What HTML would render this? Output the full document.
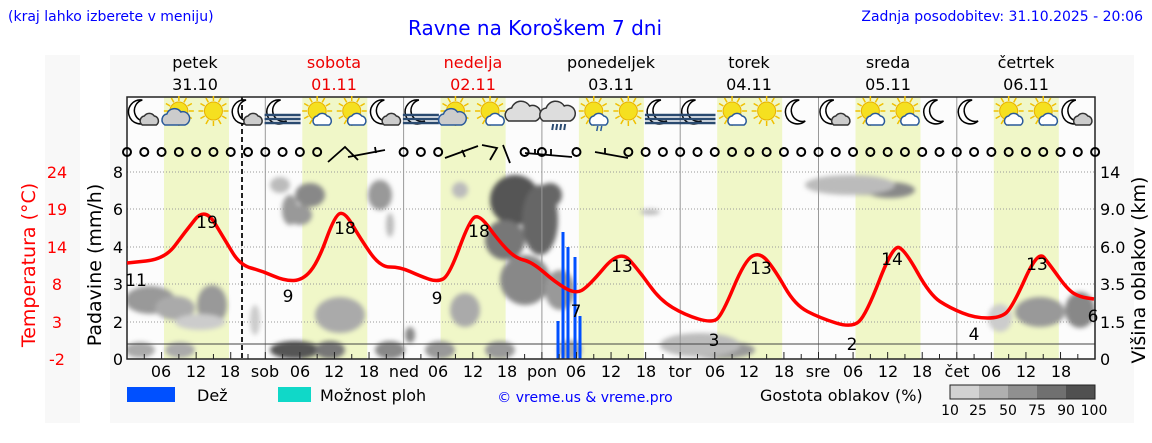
<!DOCTYPE html>
<html><head><meta charset="utf-8"><style>
html,body{margin:0;padding:0;background:#fff;width:1152px;height:443px;overflow:hidden}
svg{display:block;font-family:"DejaVu Sans","Liberation Sans",sans-serif}
</style></head><body>
<svg id="s" width="1152" height="443" viewBox="0 0 1152 443" xmlns="http://www.w3.org/2000/svg">
<defs>
<filter id="bl" x="-50%" y="-50%" width="200%" height="200%"><feGaussianBlur stdDeviation="2.5"/></filter>
<clipPath id="pc"><rect x="127" y="160" width="968" height="199"/></clipPath>
</defs>
<rect x="45" y="55" width="35" height="368" fill="#f8f8f8"/>
<rect x="110" y="55" width="1024" height="368" fill="#f8f8f8"/>
<rect x="127" y="97" width="968" height="262" fill="#fcfcfc"/>
<g id="bands" fill="#f0f7c8"></g>
<g id="grid" stroke="#999" stroke-width="1" stroke-dasharray="1,2"></g>
<g id="clouds" clip-path="url(#pc)" filter="url(#bl)"></g>
<g id="vlines" stroke="#999" stroke-width="1"></g>
<line x1="127" y1="344" x2="1095" y2="344" stroke="#444" stroke-width="1"/>
<line x1="242" y1="97" x2="242" y2="359" stroke="#222" stroke-width="2" stroke-dasharray="5,3"/>
<g id="rain" fill="#0050ff"></g>
<rect x="127" y="97" width="968" height="262" fill="none" stroke="#222" stroke-width="1.5"/>
<g id="ticks" stroke="#222" stroke-width="1"></g>
<g id="icons"></g>
<g id="wind" fill="none" stroke="#000" stroke-width="2"></g>
<path id="temp" fill="none" stroke="#f00" stroke-width="3.5" stroke-linejoin="round"/>

<g font-size="17" fill="#000" text-anchor="middle">
<text x="136" y="286">11</text><text x="207" y="228">19</text><text x="288" y="302">9</text>
<text x="345" y="234">18</text><text x="437" y="304">9</text><text x="479" y="237">18</text>
<text x="576" y="317">7</text><text x="622" y="272">13</text><text x="714" y="346">3</text>
<text x="761" y="274">13</text><text x="852" y="350">2</text><text x="892" y="265">14</text>
<text x="974" y="340">4</text><text x="1037" y="270">13</text><text x="1093" y="322">6</text>
</g>

<g font-size="16" fill="#000" text-anchor="end">
<text x="123" y="178">8</text><text x="123" y="215">6</text><text x="123" y="253">4</text>
<text x="123" y="290">3</text><text x="123" y="328">2</text><text x="123" y="365">0</text>
</g>
<g font-size="16" fill="#f00" text-anchor="middle">
<text x="57" y="178">24</text><text x="57" y="215">19</text><text x="57" y="253">14</text>
<text x="57" y="290">8</text><text x="57" y="328">3</text><text x="57" y="365">-2</text>
</g>
<g font-size="16" fill="#000" text-anchor="start">
<text x="1100" y="178">14</text><text x="1100" y="215">9.0</text><text x="1100" y="253">6.0</text>
<text x="1100" y="290">3.5</text><text x="1100" y="328">1.5</text><text x="1100" y="365">0</text>
</g>
<text transform="translate(35,265) rotate(-90)" font-size="19" fill="#f00" text-anchor="middle">Temperatura (°C)</text>
<text transform="translate(101,265) rotate(-90)" font-size="19" fill="#000" text-anchor="middle">Padavine (mm/h)</text>
<text transform="translate(1145,270) rotate(-90)" font-size="19" fill="#000" text-anchor="middle">Višina oblakov (km)</text>

<g font-size="16" fill="#000" text-anchor="middle">
<text x="195" y="68">petek</text><text x="195" y="90">31.10</text>
<text x="334" y="68" fill="#e00">sobota</text><text x="334" y="90" fill="#e00">01.11</text>
<text x="473" y="68" fill="#e00">nedelja</text><text x="473" y="90" fill="#e00">02.11</text>
<text x="611" y="68">ponedeljek</text><text x="611" y="90">03.11</text>
<text x="749" y="68">torek</text><text x="749" y="90">04.11</text>
<text x="888" y="68">sreda</text><text x="888" y="90">05.11</text>
<text x="1026" y="68">četrtek</text><text x="1026" y="90">06.11</text>
</g>
<g font-size="16" fill="#000" text-anchor="middle">
<text x="161" y="377">06</text><text x="196" y="377">12</text><text x="230" y="377">18</text>
<text x="265" y="377">sob</text><text x="300" y="377">06</text><text x="334" y="377">12</text><text x="369" y="377">18</text>
<text x="404" y="377">ned</text><text x="438" y="377">06</text><text x="473" y="377">12</text><text x="507" y="377">18</text>
<text x="542" y="377">pon</text><text x="576" y="377">06</text><text x="611" y="377">12</text><text x="646" y="377">18</text>
<text x="680" y="377">tor</text><text x="715" y="377">06</text><text x="749" y="377">12</text><text x="784" y="377">18</text>
<text x="818" y="377">sre</text><text x="853" y="377">06</text><text x="888" y="377">12</text><text x="922" y="377">18</text>
<text x="957" y="377">čet</text><text x="991" y="377">06</text><text x="1026" y="377">12</text><text x="1061" y="377">18</text>
</g>

<text x="8" y="21" font-size="14" fill="#00f">(kraj lahko izberete v meniju)</text>
<text x="535" y="35" font-size="20" fill="#00f" text-anchor="middle">Ravne na Koroškem 7 dni</text>
<text x="1143" y="21" font-size="14" fill="#00f" text-anchor="end">Zadnja posodobitev: 31.10.2025 - 20:06</text>

<rect x="127" y="387" width="48" height="15" fill="#0050ff"/>
<text x="197" y="401" font-size="16">Dež</text>
<rect x="278" y="387" width="33" height="15" fill="#10d8c8"/>
<text x="320" y="401" font-size="16">Možnost ploh</text>
<text x="585" y="402" font-size="14" fill="#00f" text-anchor="middle">© vreme.us &amp; vreme.pro</text>
<text x="760" y="401" font-size="16">Gostota oblakov (%)</text>
<rect x="950" y="385" width="29" height="14" fill="#d2d2d2"/><rect x="979" y="385" width="29" height="14" fill="#b0b0b0"/>
<rect x="1008" y="385" width="29" height="14" fill="#909090"/><rect x="1037" y="385" width="29" height="14" fill="#707070"/>
<rect x="1066" y="385" width="29" height="14" fill="#505050"/>
<rect x="950" y="385" width="145" height="14" fill="none" stroke="#222"/>
<g font-size="14" text-anchor="middle"><text x="950" y="415">10</text><text x="978" y="415">25</text><text x="1008" y="415">50</text><text x="1037" y="415">75</text><text x="1066" y="415">90</text><text x="1094" y="415">100</text></g>
</svg>
<script>
const NS="http://www.w3.org/2000/svg";
function el(p,t,a){const e=document.createElementNS(NS,t);for(const k in a)e.setAttribute(k,a[k]);document.getElementById(p).appendChild(e);return e;}
const D=138.3,X0=127,H=D/24;
for(let d=0;d<7;d++){el('bands','rect',{x:X0+d*D+37,y:97,width:65,height:262});}
[172,209,247,284,322].forEach(y=>el('grid','line',{x1:127,x2:1095,y1:y,y2:y}));
for(let d=1;d<7;d++){const x=X0+d*D;el('vlines','line',{x1:x,x2:x,y1:97,y2:359});}
for(let h=3;h<168;h+=3){const x=X0+h*H;el('ticks','line',{x1:x,x2:x,y1:359,y2:(h%6?354:352)});}
const C=[[150,300,25,14,'#999'],[175,308,20,12,'#aaa'],[212,305,15,20,'#999'],[200,322,25,8,'#ccc'],[140,350,15,8,'#aaa'],[180,350,15,8,'#aaa'],
[280,185,10,8,'#bbb'],[290,210,8,15,'#999'],[310,195,15,12,'#888'],[300,215,12,10,'#999'],[340,315,25,18,'#aaa'],[295,350,25,9,'#555'],[330,350,15,9,'#777'],[255,320,5,15,'#ccc'],
[380,195,12,15,'#999'],[390,225,4,12,'#bbb'],[390,350,15,9,'#888'],[440,350,15,9,'#999'],[460,190,8,8,'#bbb'],[410,335,5,8,'#888'],[465,310,15,17,'#aaa'],
[515,200,25,25,'#555'],[505,240,20,20,'#777'],[540,220,18,35,'#666'],[525,280,25,25,'#888'],[560,290,15,20,'#999'],[550,195,12,12,'#666'],[570,350,12,10,'#aaa'],[500,350,15,9,'#999'],
[720,350,35,9,'#999'],[700,345,40,12,'#bbb'],[650,212,10,3,'#bbb'],
[860,188,35,7,'#777'],[890,190,25,8,'#888'],[850,185,45,10,'#bbb'],
[1040,312,25,15,'#999'],[1080,310,15,18,'#888'],[1000,318,12,14,'#ccc']];
C.forEach(c=>el('clouds','ellipse',{cx:c[0],cy:c[1],rx:c[2],ry:c[3],fill:c[4]}));
[[558,321],[563,232],[568,247],[575,257],[580,316]].forEach(r=>el('rain','rect',{x:r[0]-1.5,y:r[1],width:3,height:359-r[1]}));
for(let h=0;h<=168;h+=3){const x=X0+h*H;
 if((x>325&&x<395)||(x>440&&x<520)||(x>545&&x<575)||(x>590&&x<625))continue;
 el('wind','circle',{cx:x,cy:152,r:4});}
[["M328,162 L345,147 L358,160 M348,157 L385,150 M375,147 L376,153"],["M445,158 L478,146 M462,150 L465,157 M482,145 L497,148 L490,160 M503,145 L510,163"],["M525,153 L572,157 M535,149 L535,154 M551,149 L551,156"],["M595,152 L628,158 M605,148 L605,153"]].forEach(p=>el('wind','path',{d:p[0],'stroke-width':1.8}));
const T=[[127,263],[165,259],[185,232],[205,207],[225,240],[240,265],[262,271],[285,281],[303,280],[318,262],[335,215],[345,212],[360,238],[380,267],[400,267],[420,276],[437,282],[449,276],[470,219],[480,215],[498,240],[515,258],[532,262],[555,282],[575,294],[588,287],[620,249],[640,272],[660,300],[685,315],[712,323],[722,315],[745,260],[760,252],[775,270],[795,305],[820,318],[852,328],[866,315],[893,245],[905,250],[930,295],[950,308],[975,318],[1000,318],[1012,308],[1038,250],[1050,265],[1068,290],[1080,297],[1094,299]];
let d="M"+T[0].join(",");for(let i=1;i<T.length;i++){const p=T[i-1],q=T[i],mx=(p[0]+q[0])/2;d+=` Q${p[0]},${p[1]} ${mx},${(p[1]+q[1])/2}`;}d+=` L${T[T.length-1].join(",")}`;
document.getElementById('temp').setAttribute('d',d);
const I="mc,sc,s,mc,fm,sb,sb,mc,fm,sc,sb,c,cr,sr,s,fm,fm,sb,s,m,mc,sb,sb,m,m,sb,sb,mc".split(",");
I.forEach((t,i)=>{const x=X0+(i*6+3)*H,y=113,g=el('icons','g',{transform:`translate(${x},${y})`});
 const a=(tag,at)=>{const e=document.createElementNS(NS,tag);for(const k in at)e.setAttribute(k,at[k]);g.appendChild(e);};
 if(t[0]=='m'||t=='fm'){a('path',{d:'M2,-13 A12,12 0 1 0 8,8 A10,10 0 0 1 2,-13 Z',fill:'#fff',stroke:'#000','stroke-width':1.5,transform:'translate(-4,0)'});}
 if(t[0]=='s'){for(let k=0;k<12;k++){const an=k*Math.PI/6;a('line',{x1:Math.cos(an)*10,y1:Math.sin(an)*10-2,x2:Math.cos(an)*15,y2:Math.sin(an)*15-2,stroke:'#f0c000','stroke-width':1.5});}
  a('circle',{cx:0,cy:-2,r:9,fill:'#f5e020',stroke:'#e8b000'});}
 if(t=='mc'||t=='sc'||t=='sb'||t=='sr'){const big=(t=='sc');const f=(t=='sb'||t=='sr')?'#fff':'#ccc',s=(t=='mc')?'#333':'#2a5a9a';
  a('path',{d:big?'M-14,12 a6,6 0 0 1 2,-11 a8,8 0 0 1 14,-2 a6,6 0 0 1 4,13 Z':'M-2,12 a5,5 0 0 1 2,-9 a6,6 0 0 1 10,0 a5,5 0 0 1 2,9 Z',fill:f,stroke:s,'stroke-width':1.5});}
 if(t=='fm'){[2,6,10].forEach(yy=>a('line',{x1:-18,x2:18,y1:yy,y2:yy,stroke:'#2a4a70','stroke-width':2.5}));}
 if(t=='c'||t=='cr'){a('path',{d:'M-16,8 a7,7 0 0 1 3,-13 a10,10 0 0 1 18,-2 a8,8 0 0 1 6,15 Z',fill:'#ddd',stroke:'#333','stroke-width':1.5});
  if(t=='cr')for(let k=0;k<4;k++)a('line',{x1:-6+k*4,y1:11,x2:-7+k*4,y2:17,stroke:'#2a4a70','stroke-width':2});}
 if(t=='sr'){a('line',{x1:4,y1:13,x2:3,y2:18,stroke:'#2a5a9a','stroke-width':1.5});a('line',{x1:8,y1:13,x2:7,y2:18,stroke:'#2a5a9a','stroke-width':1.5});}
});
</script>
</body></html>
